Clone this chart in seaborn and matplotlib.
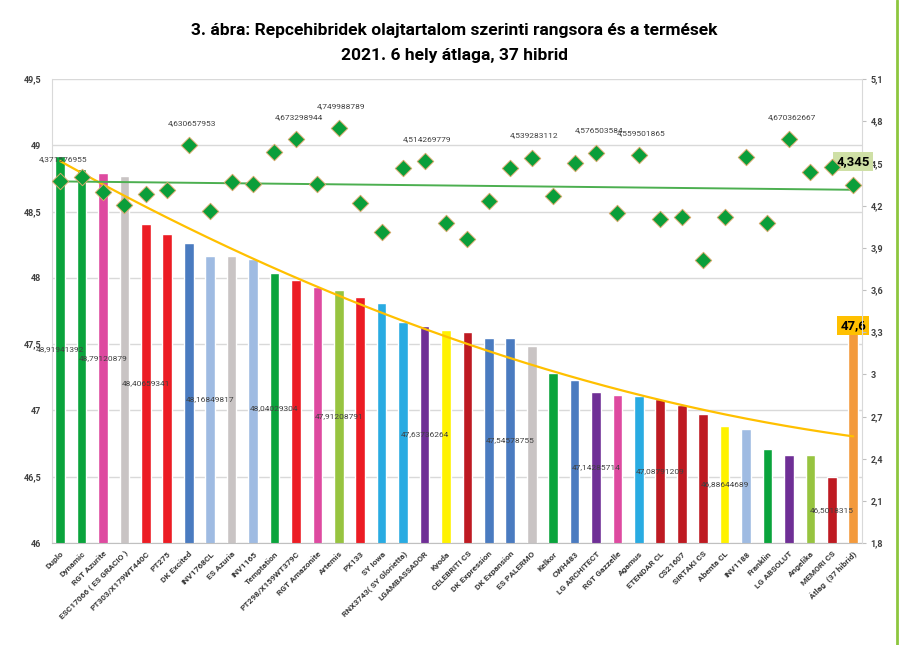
"""
Repcehibridek olajtartalom szerinti rangsora és a termések (2021, 6 hely átlaga).
Oszlop: olajtartalom (%), bal tengely; rombusz: termés (t/ha), jobb tengely.
"""

import matplotlib

matplotlib.use("Agg")
import matplotlib.pyplot as plt
import numpy as np
import seaborn as sns
from matplotlib.lines import Line2D

hybrids = [
    "Duplo", "Dynamic", "RGT Azurite", "ESC17066 ( ES GRACIO )", "PT303/X179WT440C",
    "PT275", "DK Excited", "INV1768CL", "ES Azuria", "INV1165", "Temptation",
    "PT298/X159WT379C", "RGT Amazonite", "Artemis", "PX133", "SY Iowa",
    "RNX3743( SY Glorietta)", "LGAMBASSADOR", "Kyoda", "CELEBRITI CS",
    "DK Expression", "DK Expansion", "ES PALERMO", "Kelkor", "CWH483",
    "LG ARCHITECT", "RGT Gazzelle", "Agamus", "ETENDAR CL", "CS21607",
    "SIRTAKI CS", "Abenta CL", "INV1188", "Franklin", "LG ABSOLUT", "Angelika",
    "MEMORI CS", "Átlag  (37 hibrid)",
]

# olajtartalom, %
oil = [
    48.91941392, 48.82, 48.79120879, 48.77, 48.40659341, 48.33, 48.26,
    48.16849817, 48.165, 48.14, 48.04029304, 47.985, 47.93, 47.91208791,
    47.856, 47.81, 47.667, 47.63736264, 47.61, 47.59, 47.546, 47.54578755,
    47.485, 47.28, 47.227, 47.14285714, 47.12, 47.106, 47.08791209, 47.045,
    46.977, 46.88644689, 46.864, 46.71, 46.667, 46.667, 46.5018315, 47.64,
]

# termés, t/ha
yields = [
    4.371576955, 4.40, 4.30, 4.207, 4.279, 4.314, 4.630657953, 4.164, 4.37,
    4.35, 4.579, 4.673298944, 4.35, 4.749988789, 4.221, 4.014, 4.464,
    4.514269779, 4.079, 3.964, 4.236, 4.464, 4.539283112, 4.271, 4.50,
    4.576503584, 4.15, 4.559501865, 4.107, 4.121, 3.814, 4.121, 4.543, 4.079,
    4.670362667, 4.436, 4.471, 4.345,
]

GREEN, PINK, GRAY, RED = "#0aa43c", "#de4aa0", "#c9c4c4", "#ec1c24"
BLUE, LBLUE, LIME, SKY = "#4a7bc0", "#9fbbe2", "#97c440", "#29abe2"
PURPLE, YELLOW, DRED, ORANGE = "#6f2f96", "#fff200", "#be1a22", "#f39a3c"

bar_colors = [
    GREEN, GREEN, PINK, GRAY, RED, RED, BLUE, LBLUE, GRAY, LBLUE, GREEN, RED,
    PINK, LIME, RED, SKY, SKY, PURPLE, YELLOW, DRED, BLUE, BLUE, GRAY, GREEN,
    BLUE, PURPLE, PINK, SKY, DRED, DRED, DRED, YELLOW, LBLUE, GREEN, PURPLE,
    LIME, DRED, ORANGE,
]

oil_label_idx = [0, 2, 4, 7, 10, 13, 17, 21, 25, 28, 31, 36]
yield_label_idx = [0, 6, 11, 13, 17, 22, 25, 27, 34]

title_lines = [
    "3. ábra: Repcehibridek olajtartalom szerinti rangsora és a termések",
    "2021. 6 hely átlaga, 37 hibrid",
]


def fmt(v):
    # tizedesvessző, felesleges nullák nélkül
    return repr(round(float(v), 9)).replace(".", ",")


def tick_fmt(v):
    return f"{float(v):g}".replace(".", ",")


sns.set_style("white")
plt.rcParams["font.family"] = ["Roboto", "DejaVu Sans"]

idx = np.arange(len(hybrids))

fig = plt.figure(figsize=(9, 6.45), dpi=100)
ax = fig.add_axes([0.058, 0.158, 0.9, 0.7195])

sns.barplot(x=hybrids, y=oil, hue=hybrids, palette=bar_colors, legend=False,
            width=0.45, saturation=1, ax=ax, zorder=2)
ax.set_ylim(46, 49.5)
ax.set_xlim(-0.37, 37.42)
yt = np.arange(46, 49.51, 0.5)
ax.set_yticks(yt)
ax.set_yticklabels([tick_fmt(t) for t in yt], fontsize=6.5, fontweight="bold", color="#404040")
ax.yaxis.grid(True, color="#d9d9d9", lw=1)
ax.set_axisbelow(True)
ax.set_xticks(idx)
ax.set_xticklabels(hybrids, rotation=45, ha="right", rotation_mode="anchor",
                   fontsize=6, fontweight="bold", color="#3a3a3a")
ax.tick_params(axis="x", length=0, pad=5)
ax.tick_params(axis="y", length=0, pad=8)
ax.set_xlabel("")
ax.set_ylabel("")
ax.spines["top"].set_visible(False)
ax.spines["right"].set_visible(False)
ax.spines["left"].set_color("#d9d9d9")
ax.spines["bottom"].set_color("#c0c0c0")

# polinomiális trend az olajtartalomra
coef = np.polyfit(idx, oil, 2)
xs = np.linspace(0, idx[-1], 200)
ax.plot(xs, np.polyval(coef, xs), color="#ffc000", lw=1.6, zorder=3)

for i in oil_label_idx:
    ax.text(i, 46 + (oil[i] - 46) / 2, fmt(oil[i]), ha="center", va="center",
            fontsize=6, color="#404040", zorder=5)

ax.annotate("47,6", (idx[-1], oil[-1]), ha="center", va="center", fontsize=9.5,
            fontweight="bold", color="black", zorder=6,
            bbox=dict(boxstyle="square,pad=0.25", fc="#ffc000", ec="none"))

ax2 = ax.twinx()
ax2.set_ylim(1.8, 5.1)
rt = np.round(np.arange(1.8, 5.11, 0.3), 1)
ax2.set_yticks(rt)
ax2.set_yticklabels([tick_fmt(t) for t in rt], fontsize=6.5, fontweight="bold", color="#404040")
ax2.tick_params(axis="y", length=3, color="#bfbfbf", pad=3)
for s in ["top", "left", "bottom"]:
    ax2.spines[s].set_visible(False)
ax2.spines["right"].set_color("#d9d9d9")

lin = np.polyfit(idx, yields, 1)
ax2.plot([0, idx[-1]], np.polyval(lin, [0, idx[-1]]), color="#4caf50", lw=1.4, zorder=3)
sns.scatterplot(x=idx, y=yields, marker="D", s=70, color="#0a9e3a",
                edgecolor="#d4a96a", linewidth=0.7, ax=ax2, zorder=4)
ax2.set_xlim(-0.37, 37.42)

for i in yield_label_idx:
    ax2.annotate(fmt(yields[i]), (i, yields[i]), xytext=(2, 16), textcoords="offset points",
                 ha="center", va="center", fontsize=6, color="#404040")

ax2.annotate("4,345", (idx[-1], yields[-1]), xytext=(0, 17), textcoords="offset points",
             ha="center", va="center", fontsize=9.5, fontweight="bold", color="black",
             bbox=dict(boxstyle="square,pad=0.25", fc="#cfe0a6", ec="none"))

fig.text(0.505, 0.953, title_lines[0], ha="center", va="center", fontsize=12.5,
         fontweight="bold", color="black")
fig.text(0.505, 0.914, title_lines[1], ha="center", va="center", fontsize=12.5,
         fontweight="bold", color="black")

fig.add_artist(Line2D([0.997, 0.997], [0, 1], color="#8dc63f", lw=2, transform=fig.transFigure))

fig.savefig("out.png", dpi=100)
